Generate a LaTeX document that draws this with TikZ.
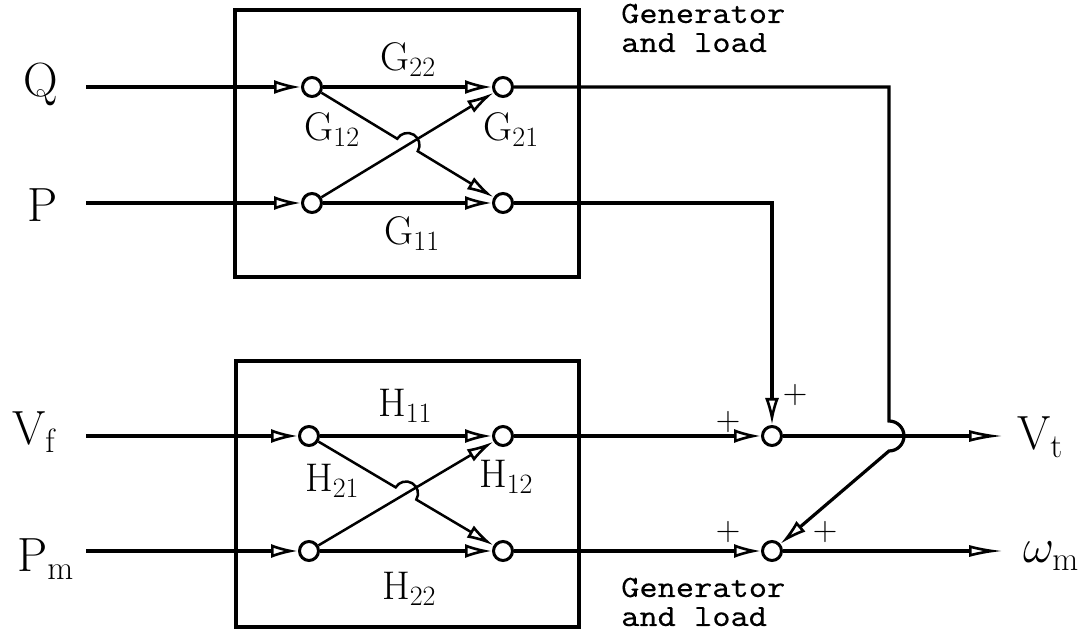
\RequirePackage{fix-cm}
\documentclass[tikz,border=0pt]{standalone}
\usepackage{fontspec}
\newfontfamily\monofont[FakeStretch=1.12, FakeBold=0.12, Extension=.otf]{lmmono10-regular}
\usetikzlibrary{arrows.meta,calc}
\tikzset{
  wire/.style={line width=3.2pt},
  thinwire/.style={line width=2.5pt},
  blockbox/.style={draw, line width=4pt, inner sep=0pt},
  junc/.style={circle, draw, line width=3pt, minimum size=19pt, inner sep=0pt, fill=white},
  arrin/.style={-{Latex[open,length=27pt,width=14pt,line width=2.6pt]}},
  arrout/.style={-{Latex[open,length=34pt,width=12pt,line width=2.6pt]}},
  biglbl/.style={inner sep=0pt, font=\fontsize{48}{54}\selectfont},
  gainlbl/.style={inner sep=0pt, anchor=base, font=\fontsize{40}{46}\selectfont},
  plusl/.style={inner sep=0pt, font=\fontsize{34}{40}\selectfont},
  notel/.style={inner sep=0pt, align=left, anchor=base west, font=\monofont\fontsize{31}{29}\selectfont},
}
\begin{document}
\begin{tikzpicture}[x=1pt,y=1pt]
\useasboundingbox (0,0) rectangle (1085,634);
% blocks
\node[blockbox, minimum width=344pt, minimum height=267pt] (Gbox) at (407,490.5) {};
\node[blockbox, minimum width=343pt, minimum height=266pt] (Hbox) at (407.5,140) {};
% junctions
\node[junc] (g1) at (312,547) {};
\node[junc] (g2) at (503,547) {};
\node[junc] (g3) at (312,431) {};
\node[junc] (g4) at (503,431) {};
\node[junc] (h1) at (309,198) {};
\node[junc] (h2) at (503,198) {};
\node[junc] (h3) at (309,83) {};
\node[junc] (h4) at (503,83) {};
\node[junc] (s1) at (772,198) {};
\node[junc] (s2) at (772,83) {};
% input/output labels
\node[biglbl, anchor=base west] (Q) at (23,537) {Q};
\node[biglbl, anchor=base west] (P) at (27,412) {P};
\node[biglbl, anchor=base west] (Vf) at (12,189) {$\mathrm{V}_{\mathrm{f}}$};
\node[biglbl, anchor=base west] (Pm) at (17,62) {$\mathrm{P}_{\mathrm{m}}$};
\node[biglbl, anchor=base west] (Vt) at (1017,184) {$\mathrm{V}_{\mathrm{t}}$};
\node[biglbl, anchor=base west] (wm) at (1023,71) {$\omega_{\mathrm{m}}$};
% coordinates
\coordinate (qin) at (86,547);
\coordinate (pin) at (86,431);
\coordinate (vin) at (86,198);
\coordinate (pmin) at (86,83);
\coordinate (qc) at (889,547);
\coordinate (hopT) at (889,213);
\coordinate (pc) at (772,431);
\coordinate (vout) at (1003,198);
\coordinate (wout) at (1003,83);
\coordinate (gxs) at (397.25,495.23);
\coordinate (hxs) at (395.68,146.62);
% gains
\node[gainlbl] (G22) at (408,563) {$\mathrm{G}_{22}$};
\node[gainlbl] (G12) at (332,493) {$\mathrm{G}_{12}$};
\node[gainlbl] (G21) at (511,493) {$\mathrm{G}_{21}$};
\node[gainlbl] (G11) at (412,389) {$\mathrm{G}_{11}$};
\node[gainlbl] (H11) at (405,217) {$\mathrm{H}_{11}$};
\node[gainlbl] (H21) at (332,142) {$\mathrm{H}_{21}$};
\node[gainlbl] (H12) at (506,146) {$\mathrm{H}_{12}$};
\node[gainlbl] (H22) at (409,34) {$\mathrm{H}_{22}$};
% notes
\node[notel] (note1) at (621,582) {Generator\\and load};
\node[notel] (note2) at (621,8) {Generator\\and load};
% plus signs
\node[plusl] (p1) at (728,212) {+};
\node[plusl] (p2) at (795,239) {+};
\node[plusl] (p3) at (728,102) {+};
\node[plusl] (p4) at (825,102) {+};
% top block wiring
\draw[wire, arrin] (qin) -- (g1);
\draw[wire, arrin] (pin) -- (g3);
\draw[wire, arrin] (g1) -- (g2);
\draw[wire, arrin] (g3) -- (g4);
\draw[thinwire, arrin] (g3) -- (g2);
\draw[thinwire, arrin] (g1) -- (gxs) arc[start angle=148.73, end angle=-31.27, radius=12] -- (g4);
% lower block wiring
\draw[wire, arrin] (vin) -- (h1);
\draw[wire, arrin] (pmin) -- (h3);
\draw[wire, arrin] (h1) -- (h2);
\draw[wire, arrin] (h3) -- (h4);
\draw[thinwire, arrin] (h3) -- (h2);
\draw[thinwire, arrin] (h1) -- (hxs) arc[start angle=149.34, end angle=-30.66, radius=12] -- (h4);
% outer wiring
\draw[wire, arrin] (g4) -- (pc) -- (s1);
\draw[wire, arrin] (g2) -- (qc) -- (hopT) arc[start angle=90, end angle=-90, radius=15] -- (s2);
\draw[wire, arrin] (h2) -- (s1);
\draw[wire, arrin] (h4) -- (s2);
\draw[wire, arrout] (s1) -- (vout);
\draw[wire, arrout] (s2) -- (wout);
\end{tikzpicture}
\end{document}
